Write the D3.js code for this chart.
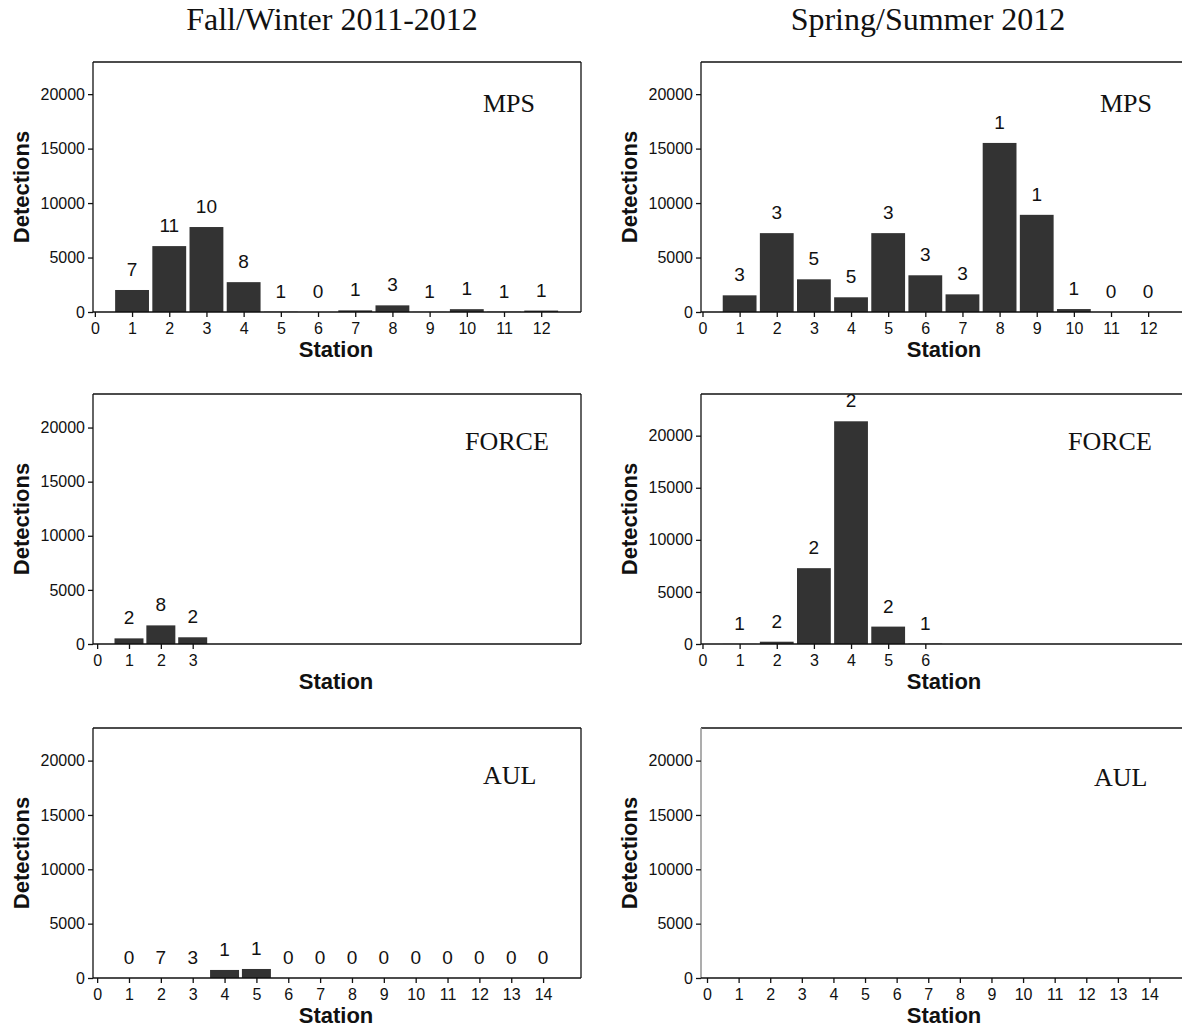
<!DOCTYPE html>
<html>
<head>
<meta charset="utf-8">
<script src="https://cdn.jsdelivr.net/npm/d3@7"></script>
<style>
  body { margin: 0; background: #fff; }
  svg { display: block; }
</style>
</head>
<body>
<svg id="chart" width="1182" height="1030"></svg>
<script>
// ---- Detections per station, with the number of tagged fish heard at each station ----
const seasons = ["Fall/Winter 2011-2012", "Spring/Summer 2012"];
const sites = ["MPS", "FORCE", "AUL"];
const yTickValues = [0, 5000, 10000, 15000, 20000];

const mpsFallStations = [1, 2, 3, 4, 5, 6, 7, 8, 9, 10, 11, 12];
const mpsFallDetections = [2020, 6050, 7800, 2740, 20, 0, 150, 610, 10, 260, 20, 130];
const mpsFallFish = [7, 11, 10, 8, 1, 0, 1, 3, 1, 1, 1, 1];

const mpsSpringStations = [1, 2, 3, 4, 5, 6, 7, 8, 9, 10, 11, 12];
const mpsSpringDetections = [1530, 7240, 3000, 1350, 7240, 3370, 1620, 15520, 8920, 270, 0, 0];
const mpsSpringFish = [3, 3, 5, 5, 3, 3, 3, 1, 1, 1, 0, 0];

const forceFallStations = [1, 2, 3];
const forceFallDetections = [520, 1720, 620];
const forceFallFish = [2, 8, 2];

const forceSpringStations = [1, 2, 3, 4, 5, 6];
const forceSpringDetections = [10, 220, 7280, 21380, 1670, 30];
const forceSpringFish = [1, 2, 2, 2, 2, 1];

const aulFallStations = [1, 2, 3, 4, 5, 6, 7, 8, 9, 10, 11, 12, 13, 14];
const aulFallDetections = [0, 0, 0, 740, 830, 0, 0, 0, 0, 0, 0, 0, 0, 0];
const aulFallFish = [0, 7, 3, 1, 1, 0, 0, 0, 0, 0, 0, 0, 0, 0];

const aulSpringStations = [];
const aulSpringDetections = [];
const aulSpringFish = [];

const mpsTicks = [0, 1, 2, 3, 4, 5, 6, 7, 8, 9, 10, 11, 12];
const forceFallTicks = [0, 1, 2, 3];
const forceSpringTicks = [0, 1, 2, 3, 4, 5, 6];
const aulTicks = [0, 1, 2, 3, 4, 5, 6, 7, 8, 9, 10, 11, 12, 13, 14];

// ---- layout ----
const colLeft = [93, 701];
const rowTop = [62, 394, 728];
const panelW = 488, panelH = 250;
const barWidth = 0.91; // in station units
const barColor = "#333333";

const panels = [
  { col: 0, row: 0, site: sites[0], st: mpsFallStations, v: mpsFallDetections, n: mpsFallFish, ticks: mpsTicks,
    xDomain: [-0.05, 13.07], yMax: 22950, labelX: 390, labelY: 50 },
  { col: 1, row: 0, site: sites[0], st: mpsSpringStations, v: mpsSpringDetections, n: mpsSpringFish, ticks: mpsTicks,
    xDomain: [-0.04, 13.1], yMax: 22950, labelX: 399, labelY: 50 },
  { col: 0, row: 1, site: sites[1], st: forceFallStations, v: forceFallDetections, n: forceFallFish, ticks: forceFallTicks,
    xDomain: [-0.13, 15.19], yMax: 23100, labelX: 372, labelY: 56 },
  { col: 1, row: 1, site: sites[1], st: forceSpringStations, v: forceSpringDetections, n: forceSpringFish, ticks: forceSpringTicks,
    xDomain: [-0.04, 13.1], yMax: 24000, labelX: 367, labelY: 56 },
  { col: 0, row: 2, site: sites[2], st: aulFallStations, v: aulFallDetections, n: aulFallFish, ticks: aulTicks,
    xDomain: [-0.13, 15.19], yMax: 23000, labelX: 390, labelY: 56 },
  { col: 1, row: 2, site: sites[2], st: aulSpringStations, v: aulSpringDetections, n: aulSpringFish, ticks: aulTicks,
    xDomain: [-0.19, 15.25], yMax: 23000, labelX: 393, labelY: 58, greyLeft: true }
];

const svg = d3.select("#chart");

// season headings
svg.selectAll("text.season")
  .data(seasons)
  .join("text")
  .attr("class", "season")
  .attr("x", (d, i) => [332, 928][i])
  .attr("y", 30)
  .attr("text-anchor", "middle")
  .attr("font-family", "'Liberation Serif', serif")
  .attr("font-size", 32)
  .attr("fill", "#111")
  .text(d => d);

panels.forEach((p, idx) => {
  const x0 = colLeft[p.col], y0 = rowTop[p.row];
  const g = svg.append("g").attr("transform", `translate(${x0},${y0})`);

  const x = d3.scaleLinear().domain(p.xDomain).range([0, panelW]);
  const y = d3.scaleLinear().domain([0, p.yMax]).range([panelH, 0]);

  const clipId = "plot-clip-" + idx;
  g.append("clipPath").attr("id", clipId)
    .append("rect").attr("x", 0).attr("y", 0).attr("width", panelW).attr("height", panelH);

  const plot = g.append("g").attr("clip-path", `url(#${clipId})`);
  const rows = p.st.map((s, i) => ({ station: s, value: p.v[i], fish: p.n[i] }));

  // bars
  plot.selectAll("rect.bar")
    .data(rows)
    .join("rect")
    .attr("class", "bar")
    .attr("x", d => x(d.station - barWidth / 2))
    .attr("width", d => x(d.station + barWidth / 2) - x(d.station - barWidth / 2))
    .attr("y", d => y(d.value))
    .attr("height", d => y(0) - y(d.value))
    .attr("fill", barColor);

  // fish counts above bars
  plot.selectAll("text.count")
    .data(rows)
    .join("text")
    .attr("class", "count")
    .attr("x", d => x(d.station))
    .attr("y", d => y(d.value) - 14)
    .attr("text-anchor", "middle")
    .attr("font-family", "'Liberation Sans', Arial, sans-serif")
    .attr("font-size", 19)
    .attr("fill", "#111")
    .text(d => d.fish);

  // frame
  g.append("line").attr("x1", 0).attr("x2", panelW).attr("y1", 0).attr("y2", 0)
    .attr("stroke", "#111").attr("stroke-width", 1.3);
  g.append("line").attr("x1", panelW).attr("x2", panelW).attr("y1", 0).attr("y2", panelH)
    .attr("stroke", "#111").attr("stroke-width", 1.3);
  g.append("line").attr("x1", 0).attr("x2", 0).attr("y1", 0).attr("y2", panelH)
    .attr("stroke", p.greyLeft ? "#999" : "#111").attr("stroke-width", p.greyLeft ? 1.6 : 1.3);
  g.append("line").attr("x1", 0).attr("x2", panelW).attr("y1", panelH).attr("y2", panelH)
    .attr("stroke", "#111").attr("stroke-width", 1.6);

  // axes
  const xAxis = d3.axisBottom(x).tickValues(p.ticks).tickSize(5).tickPadding(6).tickFormat(d3.format("d"));
  const yAxis = d3.axisLeft(y).tickValues(yTickValues).tickSize(5).tickPadding(3).tickFormat(d3.format("d"));

  const gx = g.append("g").attr("transform", `translate(0,${panelH})`).call(xAxis);
  const gy = g.append("g").call(yAxis);
  [gx, gy].forEach(a => {
    a.select(".domain").remove();
    a.selectAll(".tick line").attr("stroke", "#111").attr("stroke-width", 1.3);
    a.selectAll(".tick text")
      .attr("font-family", "'Liberation Sans', Arial, sans-serif")
      .attr("font-size", 16)
      .attr("fill", "#111");
  });

  // axis titles
  g.append("text")
    .attr("x", panelW / 2 - 1)
    .attr("y", panelH + 45)
    .attr("text-anchor", "middle")
    .attr("font-family", "'Liberation Sans', Arial, sans-serif")
    .attr("font-weight", "bold")
    .attr("font-size", 22)
    .attr("fill", "#111")
    .text("Station");

  g.append("text")
    .attr("transform", `translate(-64,${panelH / 2}) rotate(-90)`)
    .attr("text-anchor", "middle")
    .attr("font-family", "'Liberation Sans', Arial, sans-serif")
    .attr("font-weight", "bold")
    .attr("font-size", 22)
    .attr("fill", "#111")
    .text("Detections");

  // site name
  g.append("text")
    .attr("x", p.labelX)
    .attr("y", p.labelY)
    .attr("font-family", "'Liberation Serif', serif")
    .attr("font-size", 26)
    .attr("fill", "#111")
    .text(p.site);
});
</script>
</body>
</html>
